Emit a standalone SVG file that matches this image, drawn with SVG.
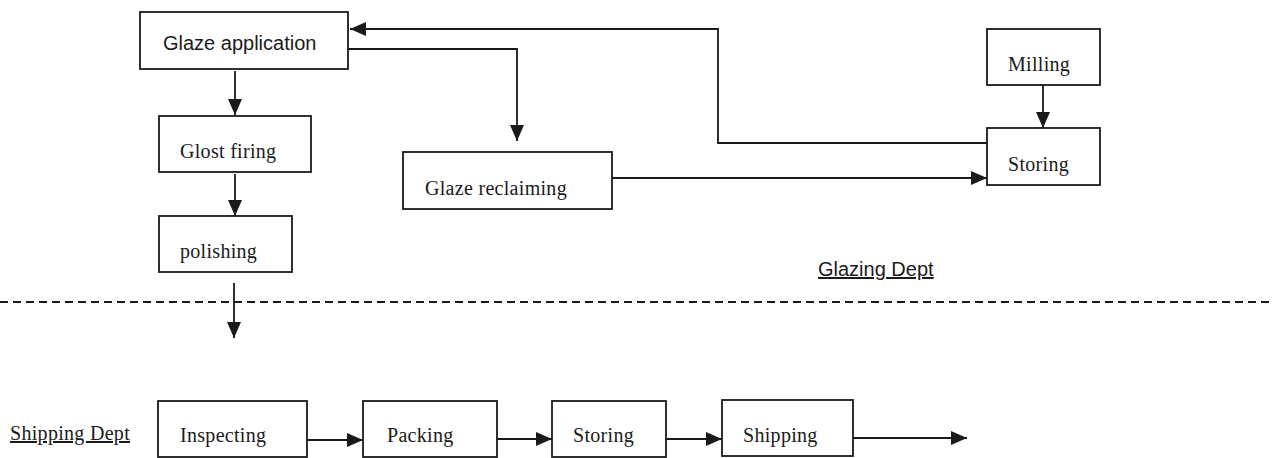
<svg xmlns="http://www.w3.org/2000/svg" width="1280" height="458" viewBox="0 0 1280 458">
<style>
  .box { fill: #fff; stroke: #1a1a1a; stroke-width: 1.8; }
  .lbl { font-family: "Liberation Serif", "Times New Roman", serif; font-size: 20px; letter-spacing: 0.3px; fill: #1a1a1a; }
  .sans { font-family: "Liberation Sans", Arial, sans-serif; font-size: 20px; fill: #1a1a1a; }
  .ln { fill: none; stroke: #1a1a1a; stroke-width: 1.8; }
  .dash { fill: none; stroke: #1a1a1a; stroke-width: 1.8; stroke-dasharray: 8 5; }
</style>
<defs>
  <marker id="ah" viewBox="0 0 16 14" refX="16" refY="7" markerWidth="16" markerHeight="14" markerUnits="userSpaceOnUse" orient="auto">
    <path d="M0,0 L16,7 L0,14 Z" fill="#1a1a1a"/>
  </marker>
</defs>
<rect width="1280" height="458" fill="#fff"/>

<g id="divider">
  <line class="dash" x1="0" y1="302" x2="1272" y2="302"/>
  <text class="sans" x="818" y="276" font-size="19" text-decoration="underline">Glazing Dept</text>
  <text class="lbl" x="10" y="440" text-decoration="underline">Shipping Dept</text>
</g>

<g id="glaze-application">
  <rect class="box" x="140" y="12" width="208" height="57"/>
  <text class="sans" x="163" y="50">Glaze application</text>
</g>
<g id="glost-firing">
  <rect class="box" x="159" y="116" width="152" height="56"/>
  <text class="lbl" x="180" y="158">Glost firing</text>
</g>
<g id="polishing">
  <rect class="box" x="159" y="216" width="133" height="56"/>
  <text class="lbl" x="180" y="258">polishing</text>
</g>
<g id="glaze-reclaiming">
  <rect class="box" x="403" y="152" width="209" height="57"/>
  <text class="lbl" x="425" y="195">Glaze reclaiming</text>
</g>
<g id="milling">
  <rect class="box" x="987" y="29" width="113" height="56"/>
  <text class="lbl" x="1008" y="71">Milling</text>
</g>
<g id="storing-glaze">
  <rect class="box" x="987" y="128" width="113" height="57"/>
  <text class="lbl" x="1008" y="171">Storing</text>
</g>
<g id="inspecting">
  <rect class="box" x="158" y="401" width="149" height="56"/>
  <text class="lbl" x="180" y="442">Inspecting</text>
</g>
<g id="packing">
  <rect class="box" x="363" y="401" width="134" height="56"/>
  <text class="lbl" x="387" y="442">Packing</text>
</g>
<g id="storing-ship">
  <rect class="box" x="552" y="401" width="114" height="56"/>
  <text class="lbl" x="573" y="442">Storing</text>
</g>
<g id="shipping">
  <rect class="box" x="722" y="400" width="131" height="56"/>
  <text class="lbl" x="743" y="442">Shipping</text>
</g>

<g id="connectors">
  <line class="ln" x1="235" y1="71" x2="235" y2="115" marker-end="url(#ah)"/>
  <line class="ln" x1="235" y1="174" x2="235" y2="216" marker-end="url(#ah)"/>
  <line class="ln" x1="234" y1="283" x2="234" y2="338" marker-end="url(#ah)"/>
  <polyline class="ln" points="348,49 517,49 517,141" marker-end="url(#ah)"/>
  <polyline class="ln" points="987,143 718,143 718,29 350,29" marker-end="url(#ah)"/>
  <line class="ln" x1="1043" y1="85" x2="1043" y2="128" marker-end="url(#ah)"/>
  <line class="ln" x1="612" y1="178" x2="987" y2="178" marker-end="url(#ah)"/>
  <line class="ln" x1="307" y1="440" x2="363" y2="440" marker-end="url(#ah)"/>
  <line class="ln" x1="497" y1="439" x2="552" y2="439" marker-end="url(#ah)"/>
  <line class="ln" x1="666" y1="439" x2="722" y2="439" marker-end="url(#ah)"/>
  <line class="ln" x1="853" y1="438" x2="967" y2="438" marker-end="url(#ah)"/>
</g>
</svg>
